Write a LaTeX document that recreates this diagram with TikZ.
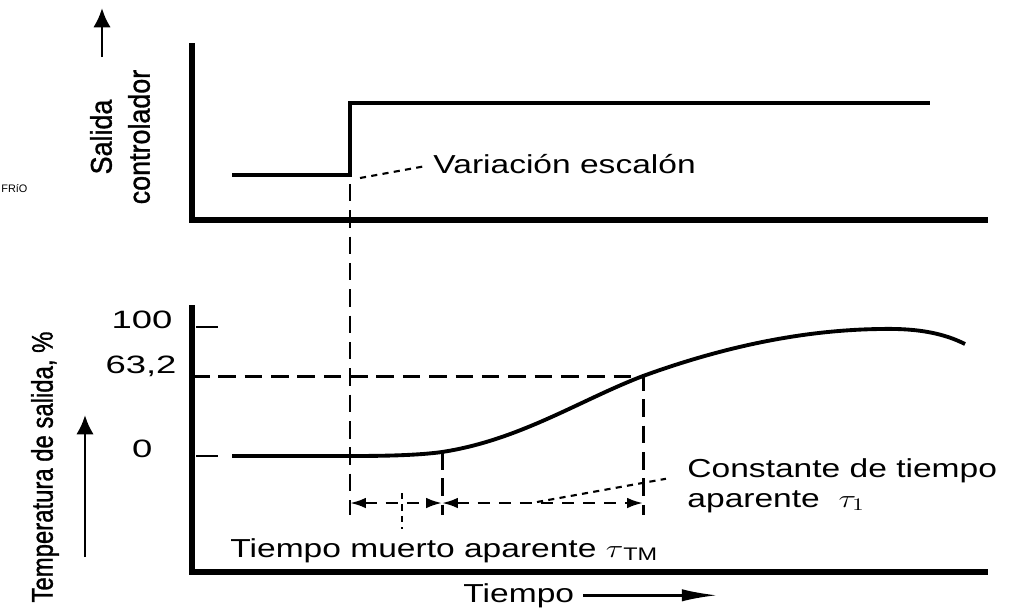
\documentclass[tikz,border=0pt]{standalone}
\usepackage{fontspec}
\setmainfont{Liberation Sans}
\newfontfamily\heavysans[FakeBold=1.2]{Liberation Sans}
\usetikzlibrary{arrows.meta}

\begin{document}
\begin{tikzpicture}[x=0.02cm, y=-0.02cm,
    axisline/.style={line width=3.2pt, line join=miter},
    stepline/.style={line width=2.6pt, line join=miter},
    response/.style={line width=2.2pt},
    tickline/.style={line width=1.3pt},
    guideline/.style={line width=1.7pt, dash pattern=on 10pt off 5pt},
    spanline/.style={line width=1.4pt, dash pattern=on 7pt off 5pt, {Latex[length=9pt,width=6pt]}-{Latex[length=9pt,width=6pt]}},
    leaderline/.style={line width=1.2pt, dash pattern=on 3.5pt off 3pt},
    updir/.style={line width=1.7pt, -{Latex[length=11pt,width=10pt]}},
    timearrow/.style={line width=1.4pt, -{Latex[length=20pt,width=7pt]}},
    widelbl/.style={font=\fontsize{14.8}{17}\selectfont, xscale=1.29, inner sep=0pt},
    narrowlbl/.style={font=\heavysans\fontsize{17}{20}\selectfont, rotate=90, inner sep=0pt},
    numlbl/.style={font=\fontsize{14.3}{16}\selectfont, xscale=1.45, inner sep=0pt}]
  \useasboundingbox (0, 0) rectangle (1017, 610);
  \fill [white] (0, 0) rectangle (1017, 610);

  \coordinate (lowend) at (350, 175);
  \coordinate (p0) at (350, 456);
  \coordinate (p1) at (442, 452);
  \coordinate (p2) at (643, 376);
  \coordinate (floor) at (0, 515);
  \coordinate (spanrow) at (0, 503);

  \draw [axisline] (192, 43) -- (192, 220) -- (988, 220);
  \draw [axisline] (192, 305) -- (192, 572) -- (988, 572);

  \draw [stepline] (232, 175) -- (lowend) -- (350, 103) -- (930, 103);

  \draw [tickline] (196, 327) -- (218, 327);
  \draw [tickline] (196, 456) -- (218, 456);
  \draw [response] (232, 456) -- (p0) .. controls (390, 456) and (420, 455) .. (p1)
        .. controls (520, 440) and (580, 400) .. (p2)
        .. controls (720, 348) and (800, 330) .. (880, 329)
        .. controls (920, 328) and (945, 334) .. (965, 344);

  \draw [guideline] ([yshift=-5pt]lowend) -- (lowend |- floor);
  \draw [guideline] (p1) -- (p1 |- floor);
  \draw [guideline] (192, 376) -- (p2) -- (p2 |- floor);

  \draw [spanline] (p0 |- spanrow) -- (p1 |- spanrow);
  \draw [spanline] (p1 |- spanrow) -- (p2 |- spanrow);

  \node [numlbl, anchor=base east] (n100) at (173, 328) {100};
  \node [numlbl, anchor=base east] (n63) at (177, 373) {63,2};
  \node [numlbl, anchor=base east] (n0) at (153, 457) {0};

  \node [widelbl, anchor=base west] (var) at (433, 173) {Variación escalón};
  \node [widelbl, anchor=base west] (ct1) at (687, 477) {Constante de tiempo};
  \node [widelbl, anchor=base west] (ct2) at (687, 507) {aparente~~$\tau_1$};
  \node [widelbl, anchor=base west] (tm) at (230, 557) {Tiempo muerto aparente~$\tau$\textsubscript{TM}};
  \node [widelbl, anchor=base west] (tiempo) at (463, 602) {Tiempo};

  \node [narrowlbl, xscale=0.9] (salida) at (101, 137) {Salida};
  \node [narrowlbl, xscale=0.9] (ctrl) at (139, 137) {controlador};
  \node [narrowlbl, xscale=0.8] (temp) at (45, 467) {Temperatura de salida, \%};
  \node [font=\fontsize{6.2}{7}\selectfont, inner sep=0pt, anchor=west] (frio) at (1, 189) {FRíO};

  \coordinate (stepcorner) at (360, 178);
  \draw [leaderline] (stepcorner) -- ([xshift=-4pt, yshift=4pt]var.base west);
  \coordinate (ctfoot) at (537, 502);
  \draw [leaderline] (ctfoot) -- ([xshift=-12pt, yshift=-1pt]ct1.base west);
  \coordinate (tmfoot) at (402, 493);
  \draw [leaderline, shorten >=5pt] (tmfoot) -- (tmfoot |- tm.north);

  \coordinate (tend) at (717, 0);
  \draw [timearrow] ([xshift=5pt]tiempo.east) -- (tiempo.east -| tend);

  \coordinate (sa0) at (102, 57);
  \coordinate (sa1) at (102, 8);
  \draw [updir] (sa0) -- (sa1);
  \coordinate (ta0) at (85, 557);
  \coordinate (ta1) at (85, 415);
  \draw [updir] (ta0) -- (ta1);
\end{tikzpicture}
\end{document}
